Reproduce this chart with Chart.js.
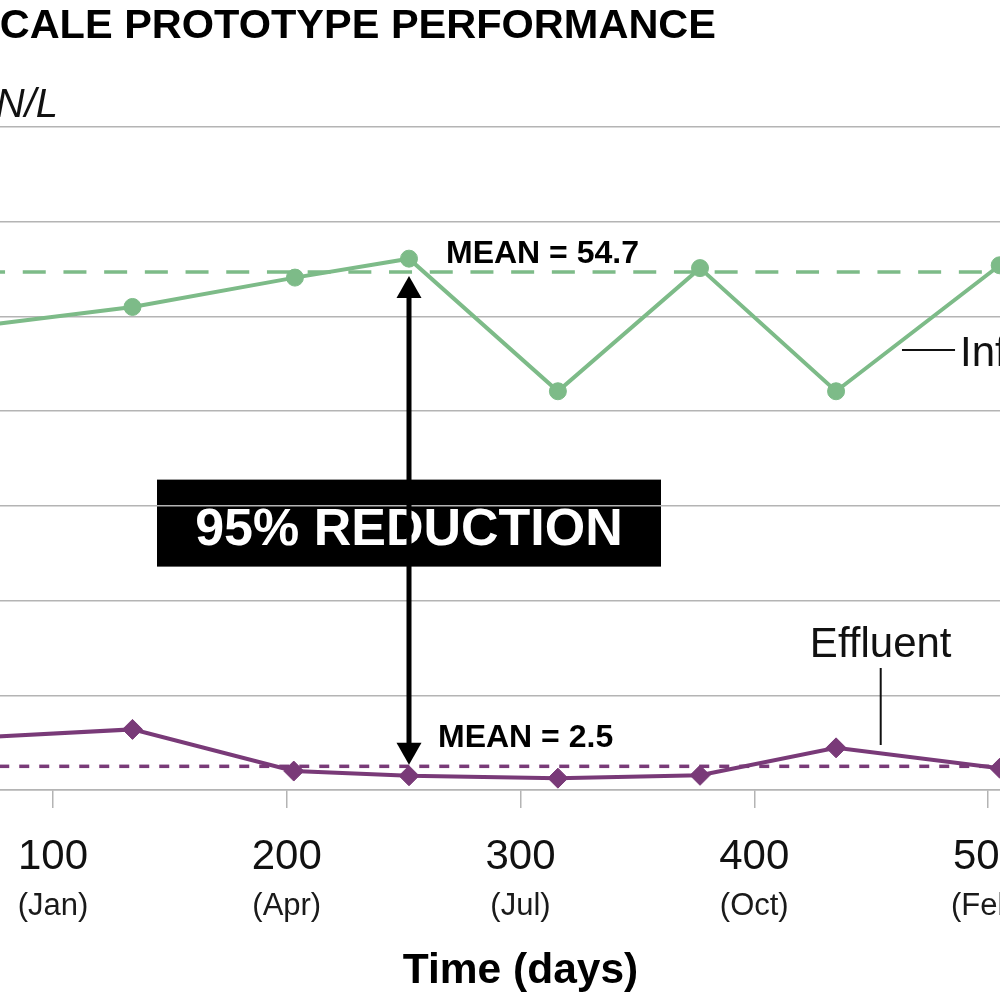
<!DOCTYPE html>
<html><head><meta charset="utf-8">
<script src="https://cdn.jsdelivr.net/npm/chart.js@4.4.1/dist/chart.umd.min.js"></script>
<style>
html,body{margin:0;padding:0;width:1000px;height:1000px;overflow:hidden;background:#fff}
#wrap{position:relative;width:1000px;height:1000px;overflow:hidden}
#c{position:absolute;left:-400px;top:0}
</style></head>
<body><div id="wrap"><canvas id="c" width="1700" height="1000"></canvas></div>
<script>
// ---- data ----
const titleText = "SCALE PROTOTYPE PERFORMANCE";
const yUnitLabel = "mg N/L";
const xAxisTitle = "Time (days)";
const xTickValues = [100, 200, 300, 400, 500];
const monthLabels = ["(Jan)", "(Apr)", "(Jul)", "(Oct)", "(Feb)"];
const influentDays   = [72, 134, 203.5, 252.3, 316, 376.8, 435, 505];
const influentValues = [49.1, 51.0, 54.1, 56.1, 42.1, 55.1, 42.1, 55.4];
const effluentDays   = [72, 134, 203, 252.3, 316, 376.8, 435, 505];
const effluentValues = [5.6, 6.4, 2.0, 1.5, 1.25, 1.55, 4.45, 2.3];
const influentMean = 54.7;
const effluentMean = 2.5;
const meanLabels = ["MEAN = 54.7", "MEAN = 2.5"];
const reductionLabel = "95% REDUCTION";
const seriesLabels = ["Influent", "Effluent"];

const GREEN = '#7dbb88';
const PURPLE = '#793a78';
const GRID = '#b4b4b4';
const FONT = '"Liberation Sans", Arial, sans-serif';
const OFF = 400; // canvas shifted left by this many px

const toPts = (xs, ys) => xs.map((d, i) => ({x: d, y: ys[i]}));

const annot = {
  id: 'annot',
  beforeDraw(chart) {
    const {ctx, scales: {x, y}} = chart;
    const ax = x.getPixelForValue(influentDays[3]);
    const mid = (y.getPixelForValue(influentMean) + y.getPixelForValue(effluentMean)) / 2 + 4;
    ctx.save();
    ctx.fillStyle = '#000';
    ctx.fillRect(ax - 252, mid - 43.5, 504, 87);
    ctx.fillStyle = '#fff';
    ctx.font = 'bold 52px ' + FONT;
    ctx.textAlign = 'center';
    ctx.textBaseline = 'alphabetic';
    ctx.fillText(reductionLabel, ax, mid + 22);
    ctx.restore();
  },
  afterDatasetsDraw(chart) {
    const {ctx, scales: {x, y}} = chart;
    ctx.save();
    // title
    ctx.fillStyle = '#000';
    ctx.font = 'bold 41.5px ' + FONT;
    ctx.textAlign = 'right';
    ctx.textBaseline = 'alphabetic';
    ctx.fillText(titleText, OFF + 716, 38);
    // y unit
    ctx.font = 'italic 40px ' + FONT;
    ctx.fillStyle = '#111';
    ctx.fillText(yUnitLabel, OFF + 58, 117);
    // month labels
    ctx.font = '31px ' + FONT;
    ctx.textAlign = 'center';
    ctx.textBaseline = 'middle';
    ctx.fillStyle = '#1a1a1a';
    xTickValues.forEach((v, i) => ctx.fillText(monthLabels[i], x.getPixelForValue(v), 906));
    // arrow
    const ax = x.getPixelForValue(influentDays[3]);
    const top = y.getPixelForValue(influentMean) + 4;
    const bot = y.getPixelForValue(effluentMean) - 1.5;
    ctx.strokeStyle = '#000';
    ctx.fillStyle = '#000';
    ctx.lineWidth = 5;
    ctx.beginPath(); ctx.moveTo(ax, top + 18); ctx.lineTo(ax, bot - 18); ctx.stroke();
    ctx.beginPath(); ctx.moveTo(ax, top); ctx.lineTo(ax - 12.5, top + 22); ctx.lineTo(ax + 12.5, top + 22); ctx.closePath(); ctx.fill();
    ctx.beginPath(); ctx.moveTo(ax, bot); ctx.lineTo(ax - 12.5, bot - 22); ctx.lineTo(ax + 12.5, bot - 22); ctx.closePath(); ctx.fill();
    // mean labels
    ctx.font = 'bold 32px ' + FONT;
    ctx.textAlign = 'left';
    ctx.textBaseline = 'alphabetic';
    ctx.fillStyle = '#000';
    ctx.fillText(meanLabels[0], ax + 37, 263);
    ctx.fillText(meanLabels[1], ax + 29, 747);
    // series labels
    ctx.font = '42px ' + FONT;
    ctx.fillStyle = '#111';
    const ex = x.getPixelForValue(454.1);
    ctx.textAlign = 'center';
    ctx.fillText(seriesLabels[1], ex, 657);
    ctx.lineWidth = 2;
    ctx.strokeStyle = '#111';
    ctx.beginPath(); ctx.moveTo(ex, 668); ctx.lineTo(ex, 745); ctx.stroke();
    const ix1 = x.getPixelForValue(463.2), ix2 = x.getPixelForValue(485.9);
    ctx.beginPath(); ctx.moveTo(ix1, 350); ctx.lineTo(ix2, 350); ctx.stroke();
    ctx.textAlign = 'left';
    ctx.fillText(seriesLabels[0], ix2 + 5, 366);
    ctx.restore();
  }
};

new Chart(document.getElementById('c'), {
  type: 'line',
  data: {
    datasets: [
      {label: seriesLabels[0], data: toPts(influentDays, influentValues), borderColor: GREEN, backgroundColor: GREEN,
       borderWidth: 4, pointRadius: 8.5, pointBorderWidth: 1, pointStyle: 'circle', tension: 0, order: 0},
      {label: seriesLabels[1], data: toPts(effluentDays, effluentValues), borderColor: PURPLE, backgroundColor: PURPLE,
       borderWidth: 4, pointRadius: 10, pointBorderWidth: 1, pointStyle: 'rectRot', tension: 0, order: 0},
      {label: 'Influent mean', data: [{x: 0, y: influentMean}, {x: 600, y: influentMean}], borderColor: GREEN,
       borderWidth: 3.5, borderDash: [23, 17.7], pointRadius: 0, order: 1},
      {label: 'Effluent mean', data: [{x: 0, y: effluentMean}, {x: 600, y: effluentMean}], borderColor: PURPLE,
       borderWidth: 3.5, borderDash: [10, 10], pointRadius: 0, order: 1}
    ]
  },
  options: {
    responsive: false,
    animation: false,
    devicePixelRatio: 1,
    layout: {padding: {left: 219.25, right: 78.25, top: 127, bottom: 0}},
    plugins: {legend: {display: false}, tooltip: {enabled: false}, title: {display: false}},
    scales: {
      x: {
        type: 'linear', min: 0, max: 600,
        afterFit: s => { s.height = 210; },
        ticks: {stepSize: 100, autoSkip: false, maxRotation: 0, padding: 24, color: '#111',
                font: {family: FONT, size: 42}},
        grid: {drawOnChartArea: false, drawTicks: true, tickLength: 18, color: GRID, lineWidth: 1.5},
        border: {display: true, color: GRID, width: 1.5},
        title: {display: true, text: xAxisTitle, color: '#000', padding: {top: 0, bottom: 3},
                font: {family: FONT, size: 42.5, weight: 'bold'}}
      },
      y: {
        min: 0, max: 70,
        afterFit: s => { s.width = 0; },
        ticks: {display: false, stepSize: 10},
        grid: {color: GRID, lineWidth: 1.5, drawTicks: false},
        border: {display: false}
      }
    }
  },
  plugins: [annot]
});
</script>
</body></html>
